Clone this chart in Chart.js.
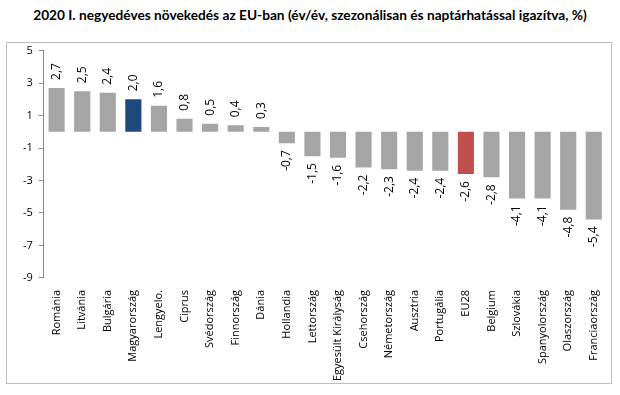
<!DOCTYPE html>
<html>
<head>
<meta charset="utf-8">
<script src="https://cdn.jsdelivr.net/npm/chart.js@4"></script>
<style>
  body { margin: 0; background: #fff; }
  #title {
    position: absolute; left: 0; top: 6px; width: 620px;
    text-align: center; font: bold 13.7px Lato, sans-serif; color: #000;
  }
  #box {
    position: absolute; left: 6px; top: 42px; width: 604px; height: 340px;
    border: 1px solid #bfbfbf;
  }
  #wrap {
    position: absolute; left: 7px; top: 38px; width: 604px; height: 347px;
  }
</style>
</head>
<body>
<div id="title">2020 I. negyedéves növekedés az EU-ban (év/év, szezonálisan és naptárhatással igazítva, %)</div>
<div id="box"></div>
<div id="wrap"><canvas id="growthChart"></canvas></div>
<script>
// =========================
// DATA
// =========================

var countries = ["Románia", "Litvánia", "Bulgária", "Magyarország", "Lengyelo.", "Ciprus",
  "Svédország", "Finnország", "Dánia", "Hollandia", "Lettország", "Egyesült Királyság",
  "Csehország", "Németország", "Ausztria", "Portugália", "EU28", "Belgium", "Szlovákia",
  "Spanyolország", "Olaszország", "Franciaország"];

var growth = [2.7, 2.5, 2.4, 2.0, 1.6, 0.8, 0.5, 0.4, 0.3, -0.7, -1.5, -1.6,
  -2.2, -2.3, -2.4, -2.4, -2.6, -2.8, -4.1, -4.1, -4.8, -5.4];

var yTicks = [5, 3, 1, -1, -3, -5, -7, -9];

// =========================
// COLOURS
// =========================

var barColors = countries.map(function (c) {
  if (c === "Magyarország") return "#1f497d";
  if (c === "EU28") return "#c0504d";
  return "#a5a5a5";
});

// rotated value labels above / below each bar
var valueLabels = {
  id: "valueLabels",
  afterDatasetsDraw: function (chart) {
    var ctx = chart.ctx;
    var meta = chart.getDatasetMeta(0);
    ctx.save();
    ctx.font = "12px 'Open Sans', sans-serif";
    ctx.fillStyle = "#000";
    ctx.textBaseline = "middle";
    meta.data.forEach(function (bar, i) {
      var v = growth[i];
      var txt = v.toFixed(1).replace(".", ",");
      ctx.save();
      if (v >= 0) {
        ctx.translate(bar.x, bar.y - 8);
        ctx.rotate(-Math.PI / 2);
        ctx.textAlign = "left";
      } else {
        ctx.translate(bar.x, bar.y + 7);
        ctx.rotate(-Math.PI / 2);
        ctx.textAlign = "right";
      }
      ctx.fillText(txt, 0, 0);
      ctx.restore();
    });
    ctx.restore();
  },
};

// =========================
// CHART
// =========================

var growthCanvas = document.getElementById("growthChart");

if (growthCanvas) {
  new Chart(growthCanvas, {
    type: "bar",
    data: {
      labels: countries,
      datasets: [
        {
          data: growth,
          backgroundColor: barColors,
          barPercentage: 0.63,
          categoryPercentage: 1,
        },
      ],
    },
    options: {
      responsive: true,
      maintainAspectRatio: false,
      animation: false,
      layout: {
        padding: { left: 10, right: 1, top: 2, bottom: 0 },
      },
      plugins: {
        legend: { display: false },
        tooltip: { enabled: false },
      },
      scales: {
        x: {
          grid: { display: false },
          border: { display: false },
          ticks: {
            minRotation: 90,
            maxRotation: 90,
            autoSkip: false,
            padding: 4,
            color: "#000",
            font: { family: "'Open Sans', sans-serif", size: 11 },
          },
        },
        y: {
          min: -9,
          max: 5,
          afterBuildTicks: function (axis) {
            axis.ticks = yTicks.map(function (v) { return { value: v }; });
          },
          grid: {
            color: function (c) {
              return c.tick && c.tick.value === 0 ? "#868686" : "rgba(0,0,0,0)";
            },
            tickColor: "#868686",
            tickLength: 5,
          },
          border: { display: true, color: "#868686" },
          ticks: {
            color: "#000",
            padding: 6,
            font: { family: "'Open Sans', sans-serif", size: 11 },
          },
        },
      },
    },
    plugins: [valueLabels],
  });
}
</script>
</body>
</html>
